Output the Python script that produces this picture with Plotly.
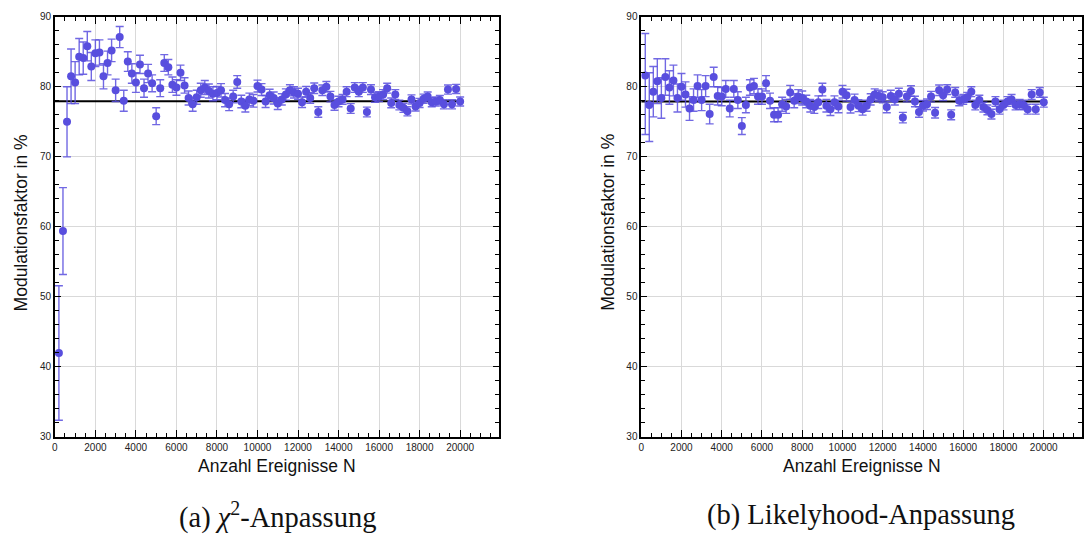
import plotly.graph_objects as go

# Number of events at which the modulation factor was evaluated
events = list(range(200, 20001, 200))

# Modulation factor (%) from the chi^2 fit
chi2_vals = [
    42.0, 59.4, 75.0, 81.5, 80.6, 84.3, 84.1, 85.8, 82.9, 84.8,
    84.9, 81.5, 83.4, 85.2, 79.5, 87.1, 78.0, 83.6, 81.9, 80.6,
    83.2, 79.8, 81.9, 80.5, 75.8, 79.8, 83.4, 82.8, 80.3, 79.9,
    82.0, 80.2, 78.4, 77.5, 78.5, 79.5, 79.9, 79.4, 79.0, 79.1,
    79.5, 78.1, 77.5, 78.6, 80.7, 77.9, 77.3, 78.2, 78.0, 80.1,
    79.6, 77.9, 78.8, 78.4, 77.6, 78.2, 78.9, 79.5, 79.2, 79.0,
    77.8, 79.3, 78.4, 79.8, 76.4, 79.5, 80.0, 78.6, 77.4, 77.9,
    78.2, 79.3, 76.9, 79.9, 79.3, 79.9, 76.4, 79.6, 78.5, 78.6,
    78.9, 79.8, 77.7, 78.9, 77.4, 77.0, 76.5, 78.2, 77.2, 77.7,
    78.3, 78.6, 77.8, 77.9, 78.1, 77.5, 79.6, 77.5, 79.7, 77.9,
]
chi2_err = [
    9.6, 6.2, 5.0, 3.9, 3.0, 2.6, 2.3, 2.1, 2.0, 1.9,
    1.8, 1.8, 1.7, 1.6, 1.6, 1.5, 1.5, 1.4, 1.4, 1.4,
    1.3, 1.3, 1.3, 1.2, 1.2, 1.2, 1.2, 1.1, 1.1, 1.1,
    1.1, 1.1, 1.0, 1.0, 1.0, 1.0, 1.0, 1.0, 1.0, 0.95,
    0.95, 0.95, 0.9, 0.9, 0.9, 0.9, 0.9, 0.9, 0.9, 0.85,
    0.85, 0.85, 0.85, 0.85, 0.85, 0.8, 0.8, 0.8, 0.8, 0.8,
    0.75, 0.75, 0.75, 0.75, 0.75, 0.75, 0.75, 0.75, 0.75, 0.75,
    0.7, 0.7, 0.7, 0.7, 0.7, 0.7, 0.7, 0.7, 0.7, 0.7,
    0.7, 0.7, 0.7, 0.7, 0.7, 0.65, 0.65, 0.65, 0.65, 0.65,
    0.65, 0.65, 0.65, 0.65, 0.65, 0.65, 0.65, 0.65, 0.65, 0.65,
]
chi2_mean = 77.95

# Modulation factor (%) from the likelihood fit
lh_vals = [
    81.6, 77.4, 79.3, 80.8, 78.4, 81.4, 79.9, 80.9, 78.4, 80.0,
    78.9, 76.9, 78.1, 80.1, 78.1, 80.1, 76.1, 81.4, 78.7, 78.6,
    79.7, 76.9, 79.7, 78.1, 74.4, 77.4, 79.9, 80.1, 78.6, 78.6,
    80.5, 78.0, 76.0, 76.0, 77.5, 77.2, 79.2, 78.0, 78.6, 78.4,
    77.9, 77.3, 77.1, 77.8, 79.6, 77.3, 76.8, 77.8, 77.2, 79.3,
    78.8, 77.1, 78.1, 77.3, 76.8, 77.3, 78.2, 78.9, 78.7, 78.5,
    77.1, 78.7, 78.2, 79.0, 75.6, 78.6, 79.4, 77.9, 76.4, 77.3,
    77.5, 78.6, 76.3, 79.5, 78.8, 79.6, 76.0, 79.2, 78.0, 78.2,
    78.5, 79.3, 77.4, 78.1, 77.1, 76.7, 76.1, 77.9, 76.8, 77.4,
    77.9, 78.2, 77.4, 77.5, 77.4, 76.8, 78.9, 76.8, 79.2, 77.8,
]
lh_err_up = [
    6.0, 4.6, 3.6, 3.2, 2.9, 2.6, 2.4, 2.2, 2.0, 1.9,
    1.8, 1.7, 1.6, 1.6, 1.5, 1.5, 1.4, 1.4, 1.3, 1.3,
    1.2, 1.2, 1.2, 1.2, 1.2, 1.1, 1.1, 1.1, 1.1, 1.1,
    1.1, 1.1, 1.0, 1.0, 1.0, 1.0, 1.0, 1.0, 1.0, 1.0,
    0.9, 0.9, 0.9, 0.9, 0.9, 0.9, 0.9, 0.9, 0.9, 0.9,
    0.85, 0.85, 0.85, 0.85, 0.85, 0.8, 0.8, 0.8, 0.8, 0.8,
    0.8, 0.8, 0.8, 0.8, 0.75, 0.75, 0.75, 0.75, 0.75, 0.75,
    0.75, 0.75, 0.75, 0.75, 0.75, 0.7, 0.7, 0.7, 0.7, 0.7,
    0.7, 0.7, 0.7, 0.7, 0.7, 0.7, 0.7, 0.7, 0.7, 0.7,
    0.7, 0.7, 0.7, 0.7, 0.7, 0.7, 0.7, 0.7, 0.7, 0.7,
]
lh_err_down = [8.4, 5.2] + lh_err_up[2:]
lh_mean = 77.9

x_ticks = [0, 2000, 4000, 6000, 8000, 10000, 12000, 14000, 16000, 18000, 20000]
x_tick_text = ["0", "2000", "4000", "6000", "8000", "10000", "12000",
               "14000", "16000", "18000", "20000"]
y_ticks = [30, 40, 50, 60, 70, 80, 90]

W, H = 1084, 539
POINT = "rgb(88,78,222)"
BAR = "rgba(88,78,222,0.85)"


def px_x(p):
    return p / W


def px_y(p):
    return 1 - p / H


fig = go.Figure()

panels = [
    ("x", "y", chi2_vals, chi2_err, chi2_err, chi2_mean),
    ("x2", "y2", lh_vals, lh_err_up, lh_err_down, lh_mean),
]
for xa, ya, vals, eup, edn, mean in panels:
    fig.add_trace(go.Scatter(
        x=[0, events[-1]], y=[mean, mean], mode="lines",
        line=dict(color="black", width=2), xaxis=xa, yaxis=ya,
        showlegend=False, hoverinfo="skip",
    ))
    fig.add_trace(go.Scatter(
        x=events, y=vals, mode="markers",
        marker=dict(color=POINT, size=8),
        error_y=dict(type="data", array=eup, arrayminus=edn, symmetric=False,
                     color=BAR, thickness=1.4, width=4),
        xaxis=xa, yaxis=ya, showlegend=False,
    ))

axis_common = dict(
    showline=True, linecolor="black", linewidth=1.5, mirror="allticks",
    ticks="inside", tickcolor="black", tickwidth=1.2,
    showgrid=True, gridcolor="#d9d9d9", gridwidth=1, zeroline=False,
    tickfont=dict(family="Liberation Sans, Arial, sans-serif", size=10, color="#222"),
)

xa = dict(axis_common, range=[0, 21900], tickvals=x_ticks, ticktext=x_tick_text,
          ticklen=7,
          minor=dict(ticks="inside", dtick=500, tick0=0, ticklen=4,
                     tickcolor="black", tickwidth=1, showgrid=False))
ya = dict(axis_common, range=[30, 90], tickvals=y_ticks,
          ticktext=[str(v) for v in y_ticks], ticklen=6,
          minor=dict(ticks="inside", dtick=2, tick0=30, ticklen=4,
                     tickcolor="black", tickwidth=1, showgrid=False))

y_dom = [px_y(441), px_y(12)]
fig.update_layout(
    width=W, height=H,
    margin=dict(l=0, r=0, t=0, b=0),
    paper_bgcolor="white", plot_bgcolor="white",
    xaxis=dict(xa, domain=[px_x(52), px_x(497)], anchor="y"),
    yaxis=dict(ya, domain=y_dom, anchor="x"),
    xaxis2=dict(xa, domain=[px_x(640), px_x(1082)], anchor="y2"),
    yaxis2=dict(ya, domain=y_dom, anchor="x2"),
)

sans = dict(family="Liberation Sans, Arial, sans-serif", size=17.5, color="#111")
serif = dict(family="Liberation Serif, Times New Roman, serif", size=28.5, color="#111")

annotations = []
for cx, ytx in [(274.5, 19), (861, 607)]:
    annotations.append(dict(text="Anzahl Ereignisse N", x=px_x(cx), y=px_y(471),
                            xref="paper", yref="paper", showarrow=False,
                            xanchor="center", yanchor="middle", font=sans))
    annotations.append(dict(text="Modulationsfaktor in %", x=px_x(ytx), y=px_y(222),
                            xref="paper", yref="paper", showarrow=False, textangle=-90,
                            xanchor="center", yanchor="middle", font=sans))
annotations.append(dict(text="(a) <i>χ</i><sup>2</sup>-Anpassung", x=px_x(275.5), y=px_y(521),
                        xref="paper", yref="paper", showarrow=False,
                        xanchor="center", yanchor="middle", font=serif))
annotations.append(dict(text="(b) Likelyhood-Anpassung", x=px_x(860.5), y=px_y(521),
                        xref="paper", yref="paper", showarrow=False,
                        xanchor="center", yanchor="middle", font=serif))
fig.update_layout(annotations=annotations)

fig.write_html("out.html")
